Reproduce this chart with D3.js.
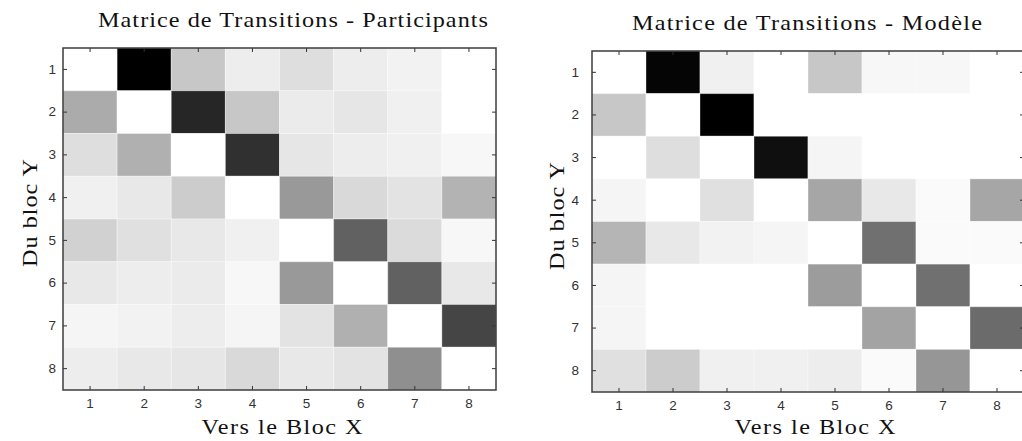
<!DOCTYPE html>
<html lang="fr">
<head>
<meta charset="utf-8">
<title>Matrices de transitions</title>
<script src="https://cdn.jsdelivr.net/npm/d3@7"></script>
<style>
  body { margin: 0; background: #fff; }
  .tick text { font-family: "Liberation Sans", Arial, sans-serif; font-size: 13.5px; fill: #333; }
  .tick line { stroke: #333; }
  .label { font-family: "Liberation Serif", "Times New Roman", serif; font-size: 22px; fill: #111; }
</style>
</head>
<body>
<script>
var w = 1022, h = 441;

// blocs (categories des deux axes)
var blocks = [1, 2, 3, 4, 5, 6, 7, 8];

// intensite des transitions (0 = blanc, 1 = noir), lignes = Du bloc Y, colonnes = Vers le Bloc X
var participants = [
  [0.00, 1.00, 0.22, 0.07, 0.13, 0.07, 0.05, 0.00],
  [0.33, 0.00, 0.85, 0.22, 0.08, 0.10, 0.06, 0.00],
  [0.13, 0.31, 0.00, 0.81, 0.10, 0.07, 0.06, 0.03],
  [0.06, 0.09, 0.20, 0.00, 0.40, 0.15, 0.11, 0.30],
  [0.18, 0.12, 0.09, 0.06, 0.00, 0.62, 0.14, 0.03],
  [0.09, 0.07, 0.08, 0.03, 0.40, 0.00, 0.62, 0.09],
  [0.04, 0.05, 0.07, 0.04, 0.11, 0.31, 0.00, 0.73],
  [0.07, 0.09, 0.10, 0.15, 0.09, 0.11, 0.44, 0.00]
];

var modele = [
  [0.00, 0.98, 0.06, 0.00, 0.22, 0.03, 0.03, 0.00],
  [0.22, 0.00, 1.00, 0.00, 0.00, 0.00, 0.00, 0.00],
  [0.00, 0.13, 0.00, 0.94, 0.04, 0.00, 0.00, 0.00],
  [0.04, 0.00, 0.12, 0.00, 0.35, 0.09, 0.02, 0.35],
  [0.29, 0.09, 0.05, 0.04, 0.00, 0.56, 0.02, 0.02],
  [0.04, 0.00, 0.00, 0.00, 0.39, 0.00, 0.56, 0.00],
  [0.04, 0.00, 0.00, 0.00, 0.00, 0.36, 0.00, 0.58],
  [0.12, 0.20, 0.06, 0.06, 0.07, 0.02, 0.41, 0.00]
];

var titles = ["Matrice de Transitions - Participants", "Matrice de Transitions - Mod\u00e8le"];
var xTitle = "Vers le Bloc X";
var yTitle = "Du bloc Y";

var color = d3.scaleLinear().domain([0, 1]).range(["#ffffff", "#000000"]);

var svg = d3.select("body").append("svg")
  .attr("width", w)
  .attr("height", h);

// texte serif un peu etire + espace pour retrouver la largeur de l'original
var stretch = 1.1;
function stretchedText(x, y, rot, str, len) {
  var t = svg.append("text")
    .attr("class", "label")
    .attr("text-anchor", "middle")
    .text(str);
  var nat = t.node().getComputedTextLength();
  var sx = Math.min(stretch, len / nat);
  t.attr("textLength", len / sx)
    .attr("lengthAdjust", "spacing")
    .attr("transform", "translate(" + x + "," + y + ") rotate(" + rot + ") scale(" + sx + ",1)");
  return t;
}

// position de chaque panneau
var panels = [
  {data: participants, title: titles[0], x: 63, y: 48, pw: 433, ph: 342,
   titleX: 293, titleY: 27, titleLen: 390, xtX: 282, ytX: 37, ytY: 213, labPad: 7},
  {data: modele, title: titles[1], x: 592, y: 51, pw: 432, ph: 341,
   titleX: 807, titleY: 30, titleLen: 350, xtX: 815, ytX: 564, ytY: 216, labPad: 13}
];

panels.forEach(function (p) {
  var g = svg.append("g").attr("transform", "translate(" + p.x + "," + p.y + ")");

  var xScale = d3.scaleBand().domain(blocks).range([0, p.pw]);
  var yScale = d3.scaleBand().domain(blocks).range([0, p.ph]);

  var cells = [];
  p.data.forEach(function (row, i) {
    row.forEach(function (v, j) {
      cells.push({y: blocks[i], x: blocks[j], v: v});
    });
  });

  g.selectAll("rect.cell")
    .data(cells)
    .enter()
    .append("rect")
    .attr("class", "cell")
    .attr("x", function (d) { return xScale(d.x); })
    .attr("y", function (d) { return yScale(d.y); })
    .attr("width", xScale.bandwidth())
    .attr("height", yScale.bandwidth())
    .attr("fill", function (d) { return color(d.v); })
    .attr("stroke", "#fff")
    .attr("stroke-opacity", 0.35)
    .attr("stroke-width", 1);

  // axes, ticks vers l'interieur
  g.append("g")
    .attr("transform", "translate(0," + p.ph + ")")
    .call(d3.axisBottom(xScale).tickSizeInner(-4).tickSizeOuter(0).tickPadding(8));
  g.append("g")
    .call(d3.axisLeft(yScale).tickSizeInner(-4).tickSizeOuter(0).tickPadding(p.labPad));
  g.append("g")
    .call(d3.axisTop(xScale).tickSizeInner(-4).tickSizeOuter(0).tickFormat(""));
  g.append("g")
    .attr("transform", "translate(" + p.pw + ",0)")
    .call(d3.axisRight(yScale).tickSizeInner(-4).tickSizeOuter(0).tickFormat(""));
  g.selectAll(".domain").remove();

  g.append("rect")
    .attr("width", p.pw)
    .attr("height", p.ph)
    .attr("fill", "none")
    .attr("stroke", "#3c3c3c")
    .attr("stroke-width", 1.5);

  stretchedText(p.titleX, p.titleY, 0, p.title, p.titleLen);
  stretchedText(p.xtX, 434, 0, xTitle, 161);
  stretchedText(p.ytX, p.ytY, -90, yTitle, 108);
});
</script>
</body>
</html>
